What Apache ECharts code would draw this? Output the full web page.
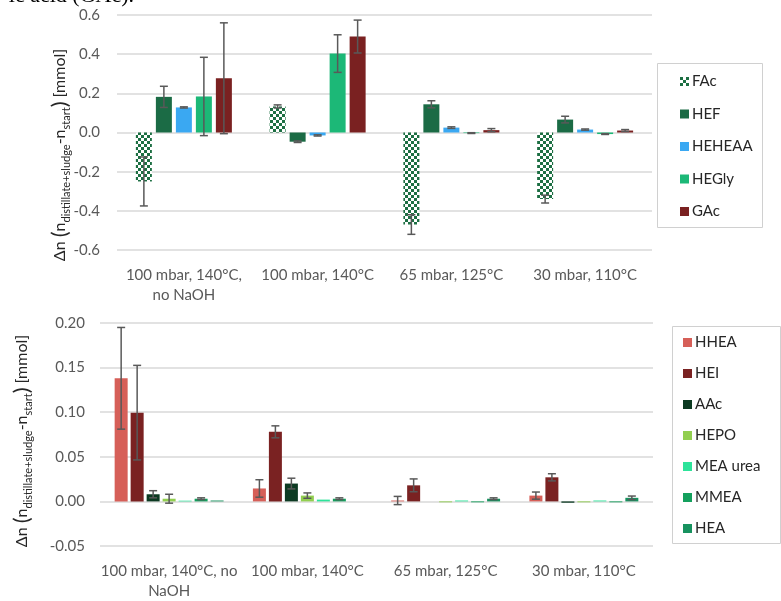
<!DOCTYPE html>
<html>
<head>
<meta charset="utf-8">
<script src="https://cdn.jsdelivr.net/npm/echarts@6/dist/echarts.min.js"></script>
<style>
html, body { margin: 0; padding: 0; background: #fff; }
#main { width: 781px; height: 601px; }
</style>
</head>
<body>
<div id="main"></div>
<script>
// ---- top panel data ----
var topCategories = ['100 mbar, 140°C,\nno NaOH', '100 mbar, 140°C', '65 mbar, 125°C', '30 mbar, 110°C']
var topNames = ['FAc', 'HEF', 'HEHEAA', 'HEGly', 'GAc']
var FAc = [-0.25, 0.133, -0.47, -0.34]
var HEF = [0.182, -0.047, 0.144, 0.066]
var HEHEAA = [0.128, -0.015, 0.025, 0.015]
var HEGly = [0.184, 0.403, -0.003, -0.008]
var GAc = [0.277, 0.49, 0.012, 0.01]
var FAcErr = [0.125, 0.008, 0.05, 0.02]
var HEFErr = [0.054, 0.004, 0.018, 0.017]
var HEHEAAErr = [0.003, 0.003, 0.004, 0.003]
var HEGlyErr = [0.2, 0.096, 0.002, 0.002]
var GAcErr = [0.283, 0.084, 0.008, 0.005]
var topTicks = [-0.6, -0.4, -0.2, 0.0, 0.2, 0.4, 0.6]

// ---- bottom panel data ----
var bottomCategories = ['100 mbar, 140°C, no\nNaOH', '100 mbar, 140°C', '65 mbar, 125°C', '30 mbar, 110°C']
var bottomNames = ['HHEA', 'HEI', 'AAc', 'HEPO', 'MEA urea', 'MMEA', 'HEA']
var HHEA = [0.138, 0.0145, 0.001, 0.0065]
var HEI = [0.0995, 0.078, 0.018, 0.027]
var AAc = [0.008, 0.02, 0, -0.0015]
var HEPO = [0.003, 0.0065, -0.001, -0.001]
var MEAurea = [0.0008, 0.002, 0.001, 0.001]
var MMEA = [0.003, 0.003, -0.001, -0.001]
var HEA = [0.001, 0, 0.003, 0.004]
var HHEAErr = [0.057, 0.0098, 0.0046, 0.004]
var HEIErr = [0.053, 0.0067, 0.0072, 0.004]
var AAcErr = [0.004, 0.006, 0, 0]
var HEPOErr = [0.005, 0.003, 0, 0]
var MEAureaErr = [0, 0, 0, 0]
var MMEAErr = [0.001, 0.001, 0, 0]
var HEAErr = [0, 0, 0.001, 0.002]
var bottomTicks = [-0.05, 0.00, 0.05, 0.10, 0.15, 0.20]

var font = 'Lato'
var grey = '#595959'

// checker pattern for FAc
var pat = document.createElement('canvas')
pat.width = 6
pat.height = 6
var ctx = pat.getContext('2d')
ctx.fillStyle = '#ffffff'
ctx.fillRect(0, 0, 6, 6)
ctx.fillStyle = '#1d6f43'
ctx.fillRect(0, 0, 3, 3)
ctx.fillRect(3, 3, 3, 3)

var topColors = [{ image: pat, repeat: 'repeat' }, '#1b6b45', '#3aa8f2', '#1cb877', '#7a2121']
var bottomColors = ['#d65f58', '#7a2222', '#0c3a22', '#92cf50', '#2de39a', '#14a05d', '#17925f']

var topVals = [FAc, HEF, HEHEAA, HEGly, GAc]
var topErrs = [FAcErr, HEFErr, HEHEAAErr, HEGlyErr, GAcErr]
var bottomVals = [HHEA, HEI, AAc, HEPO, MEAurea, MMEA, HEA]
var bottomErrs = [HHEAErr, HEIErr, AAcErr, HEPOErr, MEAureaErr, MMEAErr, HEAErr]

function barSeries(names, vals, colors, axis, barW, gap) {
    var list = []
    for (var i = 0; i < names.length; i++) {
        list.push({
            name: names[i],
            type: 'bar',
            xAxisIndex: axis,
            yAxisIndex: axis,
            data: vals[i],
            barWidth: barW,
            barGap: gap,
            itemStyle: { color: colors[i] }
        })
    }
    return list
}

// error bars, placed on the bar centres
function errorSeries(vals, errs, axis, barW, gapRatio) {
    var data = []
    for (var s = 0; s < vals.length; s++) {
        for (var c = 0; c < vals[s].length; c++) {
            if (errs[s][c] > 0) data.push([c, s, vals[s][c] - errs[s][c], vals[s][c] + errs[s][c]])
        }
    }
    var n = vals.length
    return {
        type: 'custom',
        xAxisIndex: axis,
        yAxisIndex: axis,
        silent: true,
        z: 10,
        data: data,
        encode: { x: 0, y: [2, 3] },
        renderItem: function (params, api) {
            var c = api.value(0), s = api.value(1)
            var lo = api.coord([c, api.value(2)])
            var hi = api.coord([c, api.value(3)])
            var gap = barW * gapRatio
            var total = n * barW + (n - 1) * gap
            var x = lo[0] - total / 2 + s * (barW + gap) + barW / 2
            var h = 4
            var st = { stroke: grey, lineWidth: 1.5 }
            return {
                type: 'group',
                children: [
                    { type: 'line', shape: { x1: x, y1: lo[1], x2: x, y2: hi[1] }, style: st },
                    { type: 'line', shape: { x1: x - h, y1: lo[1], x2: x + h, y2: lo[1] }, style: st },
                    { type: 'line', shape: { x1: x - h, y1: hi[1], x2: x + h, y2: hi[1] }, style: st }
                ]
            }
        }
    }
}

function yTitle(x, y) {
    return {
        type: 'text',
        x: x,
        y: y,
        rotation: Math.PI / 2,
        style: {
            text: '{a|Δn }{p|(}{a|n}{s|distillate+sludge}{a|-n}{s|start}{p|)}{a| [mmol]}',
            align: 'center',
            verticalAlign: 'middle',
            rich: {
                a: { fontFamily: font, fontSize: 16, fill: '#262626', lineHeight: 24 },
                p: { fontFamily: font, fontSize: 22, fill: '#262626', lineHeight: 24 },
                s: { fontFamily: font, fontSize: 11, fill: '#262626', lineHeight: 13, verticalAlign: 'bottom' }
            }
        }
    }
}

var myChart = echarts.init(document.getElementById('main'))

var option = {
    animation: false,
    backgroundColor: '#fff',
    grid: [
        { left: 117, right: 129, top: 15, height: 235 },
        { left: 100, right: 128, top: 323, height: 231 }
    ],
    xAxis: [
        {
            type: 'category', gridIndex: 0, data: topCategories,
            axisLine: { show: false }, axisTick: { show: false },
            axisLabel: { interval: 0, margin: 15, color: grey, fontFamily: font, fontSize: 15, lineHeight: 20 }
        },
        {
            type: 'category', gridIndex: 1, data: bottomCategories,
            axisLine: { show: false }, axisTick: { show: false },
            axisLabel: { interval: 0, margin: 15, color: grey, fontFamily: font, fontSize: 15, lineHeight: 20 }
        }
    ],
    yAxis: [
        {
            type: 'value', gridIndex: 0, min: topTicks[0], max: topTicks[topTicks.length - 1], interval: 0.2,
            axisLine: { show: false }, axisTick: { show: false },
            splitLine: { lineStyle: { color: '#d9d9d9', width: 1.5 } },
            axisLabel: { margin: 17, color: grey, fontFamily: font, fontSize: 15, formatter: function (v) { return v.toFixed(1) } }
        },
        {
            type: 'value', gridIndex: 1, min: bottomTicks[0], max: bottomTicks[bottomTicks.length - 1], interval: 0.05,
            axisLine: { show: false }, axisTick: { show: false },
            splitLine: { lineStyle: { color: '#d9d9d9', width: 1.5 } },
            axisLabel: { margin: 15, color: grey, fontFamily: font, fontSize: 15, formatter: function (v) { return v.toFixed(2) } }
        }
    ],
    legend: [
        {
            data: topNames, orient: 'vertical', left: 680, top: 74, padding: 0,
            itemWidth: 9, itemHeight: 9, itemGap: 17.5, icon: 'rect',
            textStyle: { fontFamily: font, fontSize: 15, color: '#262626', padding: [0, 0, 0, -2] }
        },
        {
            data: bottomNames, orient: 'vertical', left: 683, top: 335, padding: 0,
            itemWidth: 9, itemHeight: 9, itemGap: 16, icon: 'rect',
            textStyle: { fontFamily: font, fontSize: 15, color: '#262626', padding: [0, 0, 0, -2] }
        }
    ],
    graphic: [
        { type: 'rect', shape: { x: 657.5, y: 63.5, width: 105, height: 164 }, style: { fill: 'none', stroke: '#d0d0d0', lineWidth: 1 } },
        { type: 'rect', shape: { x: 672.5, y: 326.5, width: 108, height: 217 }, style: { fill: 'none', stroke: '#d0d0d0', lineWidth: 1 } },
        yTitle(60, 155),
        yTitle(22, 441),
        {
            type: 'text', x: 134, y: -15,
            style: { text: 'ic acid (GAc).', align: 'right', verticalAlign: 'top', fontFamily: 'Liberation Serif', fontSize: 22, fill: '#000' }
        }
    ],
    series: []
        .concat(barSeries(topNames, topVals, topColors, 0, 16, '25%'))
        .concat(barSeries(bottomNames, bottomVals, bottomColors, 1, 13, '23%'))
        .concat([errorSeries(topVals, topErrs, 0, 16, 0.25), errorSeries(bottomVals, bottomErrs, 1, 13, 0.23)])
}

myChart.setOption(option)
window.addEventListener('resize', function () {
    myChart.resize()
})
</script>
</body>
</html>
